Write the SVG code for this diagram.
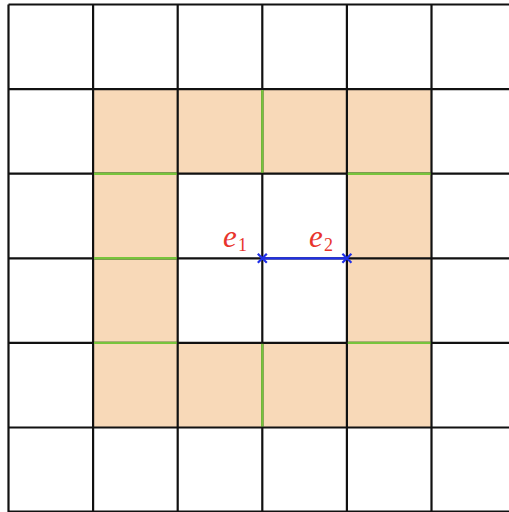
<svg xmlns="http://www.w3.org/2000/svg" width="509" height="512" viewBox="0 0 509 512">
<style>
.cell{fill:#f8d9b8}
.grid{stroke:#111;stroke-width:2.2;fill:none}
.green{stroke:#78c43c;stroke-width:2.4}
.lbl{font-family:"Liberation Serif",serif;font-style:italic;fill:#e8342c}
.sub{font-family:"Liberation Serif",serif;fill:#e8342c}
.cross{stroke:#1f2fe8;stroke-width:2.2}
</style>
<rect width="509" height="512" fill="#fff"/>
<g id="ring">
<path class="cell" d="M93.1,89.1H431.5V427.5H93.1Z M177.7,173.7V342.9H346.9V173.7Z" fill-rule="evenodd"/>
</g>
<g id="grid" class="grid">
<path d="M8.5,4.5V512 M93.1,4.5V512 M177.7,4.5V512 M262.3,4.5V512 M346.9,4.5V512 M431.5,4.5V512 M8.5,4.5H509 M8.5,89.1H509 M8.5,173.7H509 M8.5,258.3H509 M8.5,342.9H509 M8.5,427.5H509 M8.5,511.5H509"/>
</g>
<g id="green-edges" class="green">
<line x1="262.3" y1="90" x2="262.3" y2="172.8"/>
<line x1="94" y1="173.7" x2="176.8" y2="173.7"/>
<line x1="347.8" y1="173.7" x2="430.6" y2="173.7"/>
<line x1="94" y1="258.3" x2="176.8" y2="258.3"/>
<line x1="94" y1="342.9" x2="176.8" y2="342.9"/>
<line x1="347.8" y1="342.9" x2="430.6" y2="342.9"/>
<line x1="262.3" y1="343.8" x2="262.3" y2="426.6"/>
</g>
<g id="connectors">
<line x1="262.3" y1="258.3" x2="346.9" y2="258.3" stroke="#1f2fe8" stroke-width="2.2"/>
</g>
<g id="e1">
<path class="cross" d="M257.8,253.8L266.8,262.8M257.8,262.8L266.8,253.8"/>
<text class="lbl" x="223" y="247" font-size="31">e</text>
<text class="sub" x="238" y="251" font-size="18">1</text>
</g>
<g id="e2">
<path class="cross" d="M342.4,253.8L351.4,262.8M342.4,262.8L351.4,253.8"/>
<text class="lbl" x="309" y="247" font-size="31">e</text>
<text class="sub" x="324" y="251" font-size="18">2</text>
</g>
</svg>
